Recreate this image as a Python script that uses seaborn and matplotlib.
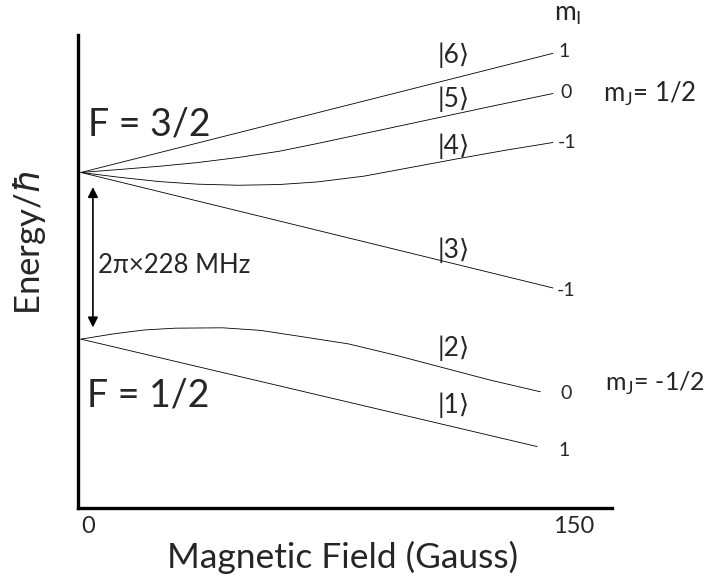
import matplotlib
matplotlib.use('Agg')
import matplotlib.pyplot as plt
import seaborn as sns
import pandas as pd

# energy levels vs field (Gauss -> MHz)
field_6 = [0, 150]
energy_6 = [228, 391]
field_5 = [0, 12, 25, 37, 50, 63, 75, 93, 112, 131, 150]
energy_5 = [228, 232, 236.5, 241.5, 248.5, 257, 267.5, 284, 301.5, 319, 336]
field_4 = [0, 12, 25, 37, 50, 63, 75, 90, 105, 120, 135, 150]
energy_4 = [228, 221.5, 215.5, 212, 210.5, 211.5, 215, 223, 235, 247, 258.5, 269]
field_3 = [0, 150]
energy_3 = [228, 70]
field_2 = [0, 10, 20, 30, 45, 57, 70, 85, 100, 115, 130, 146]
energy_2 = [0, 7, 12.5, 15, 15.5, 12, 3.5, -6.5, -22, -39, -56, -72]
field_1 = [0, 145]
energy_1 = [0, -147]

states = ['1', '2', '3', '4', '5', '6']
ket_energy = [-90, -12, 122, 264, 328, 388]
mi_labels = ['1', '0', '-1', '-1', '0', '1']
mi_energy = [-152, -75, 67, 269, 338, 393]
hfs_split = 228

rows = []
for s, fx, en in zip(states, [field_1, field_2, field_3, field_4, field_5, field_6],
                     [energy_1, energy_2, energy_3, energy_4, energy_5, energy_6]):
    for a, b in zip(fx, en):
        rows.append({'state': s, 'field': a, 'energy': b})
df = pd.DataFrame(rows)

sns.set_style('white')
plt.rcParams['font.family'] = ['Lato', 'DejaVu Sans']
plt.rcParams['mathtext.fontset'] = 'dejavusans'

fig = plt.figure(figsize=(7.11, 5.78), dpi=100)
ax = fig.add_axes([0.1097, 0.1211, 0.7511, 0.8183])

sns.lineplot(data=df, x='field', y='energy', units='state', estimator=None,
             sort=False, color='black', lw=0.6, ax=ax, legend=False)

ax.set_xlim(-0.94, 168.75)
ax.set_ylim(-231, 416)
sns.despine(ax=ax)
for side in ['left', 'bottom']:
    ax.spines[side].set_linewidth(2.4)
    ax.spines[side].set_color('black')

ax.set_yticks([])
ax.set_xticks([0, 150])
ax.set_xticklabels(['0', '150'], ha='left', fontsize=17)
ax.tick_params(axis='x', length=0, pad=6)

ax.set_xlabel('Magnetic Field (Gauss)', fontsize=25.5, va='center')
ax.xaxis.set_label_coords(0.495, -0.104)
ax.set_ylabel(r'Energy/$\hbar$', fontsize=25, va='center')
ax.yaxis.set_label_coords(-0.09, 0.56)

ax.text(2.2, 279, 'F = 3/2', fontsize=27, ha='left', va='baseline')
ax.text(1.8, -92, 'F = 1/2', fontsize=27, ha='left', va='baseline')

ax.annotate('', xy=(3.8, 208), xytext=(3.8, 16),
            arrowprops=dict(arrowstyle='<|-|>', color='black', lw=1.2,
                            mutation_scale=15, shrinkA=0, shrinkB=0))
ax.text(5.5, 91, f'2π×{hfs_split} MHz', fontsize=18.5, ha='left', va='baseline')

for s, e in zip(states, ket_energy):
    ax.text(118.5, e, f'|{s}⟩', fontsize=19, ha='center', va='center')

mi_x = [153.6, 154.0, 154.3, 154.5, 154.0, 153.6]
for lab, x, e in zip(mi_labels, mi_x, mi_energy):
    ax.text(x, e, lab, fontsize=14, ha='center', va='center', clip_on=False)

ax.text(150.3, 436, r'm$_\mathregular{I}$', fontsize=19, ha='left', va='baseline', clip_on=False)
ax.text(165.9, 325, r'm$_\mathregular{J}$= 1/2', fontsize=18.5, ha='left', va='baseline', clip_on=False)
ax.text(166.6, -70, r'm$_\mathregular{J}$= -1/2', fontsize=18, ha='left', va='baseline', clip_on=False)

fig.savefig('out.png', dpi=100)
